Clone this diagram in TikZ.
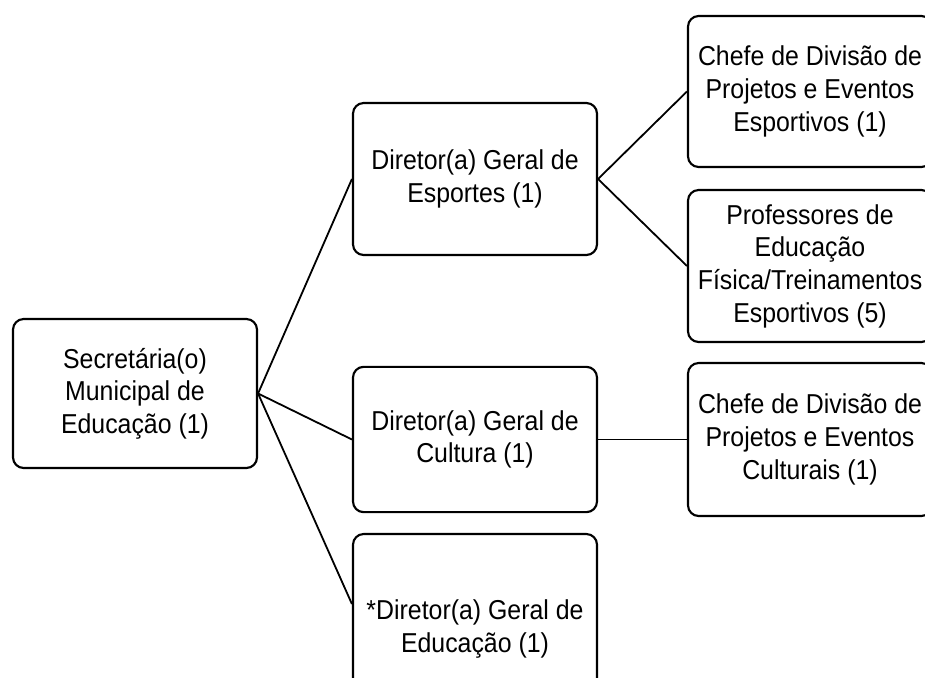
\documentclass[tikz,border=0pt]{standalone}
\usepackage{fontspec}
\setmainfont[FakeStretch=0.91]{Liberation Sans}
\usetikzlibrary{calc}
\begin{document}
\begin{tikzpicture}[x=0.75pt,y=-0.75pt,
  box/.style={draw, line width=1.6pt, rounded corners=8pt, align=center,
    font=\fontsize{20.5}{24.5}\selectfont, inner sep=0pt, minimum width=183pt},
  link/.style={line width=1.35pt}]
\useasboundingbox (0,0) rectangle (925,678);
\clip (0,0) rectangle (925,678);
\node[box, minimum height=111.75pt] (root) at (135,393.5) {Secretária(o)\\Municipal de\\Educação (1)};
\node[box, minimum height=114pt] (esp) at (475,179) {Diretor(a) Geral de\\Esportes (1)};
\node[box, minimum height=109pt] (cul) at (475,439.5) {Diretor(a) Geral de\\Cultura (1)};
\node[box, minimum height=142.5pt] (edu) at (475,629) {*Diretor(a) Geral de\\Educação (1)};
\node[box, minimum height=113.25pt] (che) at (810,91.5) {Chefe de Divisão de\\Projetos e Eventos\\Esportivos (1)};
\node[box, minimum height=114pt] (pro) at (810,266) {Professores de\\Educação\\Física/Treinamentos\\Esportivos (5)};
\node[box, minimum height=114.75pt] (chc) at (810,439.5) {Chefe de Divisão de\\Projetos e Eventos\\Culturais (1)};
\draw[link] (root.east) -- (esp.west);
\draw[link] (root.east) -- (cul.west);
\draw[link] (root.east) -- ($(edu.north west)!0.37!(edu.south west)$);
\draw[link] (esp.east) -- (che.west);
\draw[link] (esp.east) -- (pro.west);
\draw[link] (cul.east) -- (chc.west);
\end{tikzpicture}
\end{document}
